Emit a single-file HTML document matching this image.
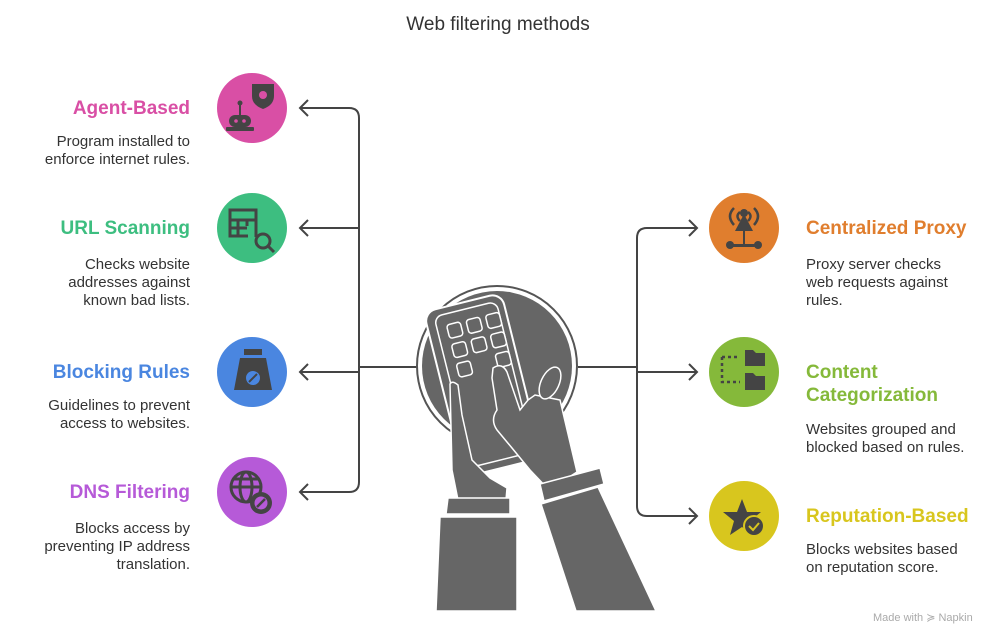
<!DOCTYPE html>
<html><head><meta charset="utf-8"><style>
html,body{margin:0;padding:0;background:#fff}
svg{display:block}
text{font-family:"Liberation Sans",sans-serif}
.t{font-size:19px;font-weight:bold}
.d{font-size:15px;fill:#333}
</style></head><body>
<svg width="996" height="634" viewBox="0 0 996 634" xmlns="http://www.w3.org/2000/svg">
<text x="498" y="30" text-anchor="middle" font-size="19" fill="#333">Web filtering methods</text>

<!-- connectors -->
<g fill="none" stroke="#444" stroke-width="2">
<path d="M359 367 H418"/>
<path d="M300 108 H349 Q359 108 359 118 V482 Q359 492 349 492 H300"/>
<path d="M300 228 H359 M300 372 H359"/>
<path d="M308 100 L300 108 L308 116 M308 220 L300 228 L308 236 M308 364 L300 372 L308 380 M308 484 L300 492 L308 500"/>
<path d="M578 367 H637"/>
<path d="M697 228 H647 Q637 228 637 238 V506 Q637 516 647 516 H697"/>
<path d="M637 372 H697"/>
<path d="M689 220 L697 228 L689 236 M689 364 L697 372 L689 380 M689 508 L697 516 L689 524"/>
</g>

<!-- center illustration -->
<circle cx="497" cy="366" r="80" fill="#fff" stroke="#555" stroke-width="2"/>
<circle cx="497" cy="366" r="75" fill="#666"/>
<g fill="#666" stroke="#fff" stroke-width="2">
<rect x="443" y="300" width="80" height="170" rx="12" transform="rotate(-14 483 385)"/>
</g>
<rect x="452" y="307" width="64" height="155" rx="8" transform="rotate(-14 483 385)" fill="none" stroke="#fff" stroke-width="1.5"/>
<g fill="#666" stroke="#fff" stroke-width="1.5" transform="rotate(-14 483 385)">
<rect x="462" y="318" width="14" height="14" rx="3"/><rect x="482" y="318" width="14" height="14" rx="3"/><rect x="502" y="318" width="14" height="14" rx="3"/>
<rect x="462" y="338" width="14" height="14" rx="3"/><rect x="482" y="338" width="14" height="14" rx="3"/><rect x="502" y="338" width="14" height="14" rx="3"/>
<rect x="462" y="358" width="14" height="14" rx="3"/><rect x="502" y="358" width="14" height="14" rx="3"/>
</g>
<g fill="#666" stroke="#fff" stroke-width="1.5">
<path d="M450 384 Q452 380 458 385 L462 415 L472 460 L490 478 L507 488 L506 500 L458 500 L452 470 Z"/>
<path d="M493 368 Q502 362 507 372 L520 410 L528 400 L535 395 L545 397 L560 400 L577 472 L549 490 L530 470 L512 448 L497 430 Q490 420 497 410 L492 378 Z"/>
<ellipse cx="550" cy="383" rx="9" ry="17" transform="rotate(25 550 383)"/>
<path d="M440 517 H517 V611 H436 Z"/>
<path d="M448 498 H510 V514 H446 Z"/>
<path d="M541 504 L598 487 L656 611 H576 Z"/>
<path d="M540 484 L600 468 L604 484 L544 501 Z"/>
</g>

<!-- left circles -->
<circle cx="252" cy="108" r="35" fill="#D94FA5"/>
<circle cx="252" cy="228" r="35" fill="#3DBE80"/>
<circle cx="252" cy="372" r="35" fill="#4A86E0"/>
<circle cx="252" cy="492" r="35" fill="#B65AD8"/>
<!-- icons left -->
<g fill="#444">
<path d="M252 84 h22 v12 q0 9 -11 13 q-11 -4 -11 -13z"/>
<circle cx="263" cy="95" r="4" fill="#D94FA5"/>
<rect x="229" y="115" width="22" height="12" rx="6"/><rect x="226" y="127" width="28" height="4" rx="1"/>
<circle cx="236" cy="121" r="1.8" fill="#D94FA5"/><circle cx="244" cy="121" r="1.8" fill="#D94FA5"/>
<circle cx="240" cy="103" r="2.5"/><rect x="239" y="104" width="2" height="11"/>
</g>
<g fill="none" stroke="#444" stroke-width="3">
<path d="M256 237 V210 H230 V236 H248 M230 220 H256 M230 228 H247 M238 220 V236 M247 220 V226"/>
<circle cx="263" cy="241" r="7"/><path d="M268 246 l6 6"/>
</g>
<g fill="#444">
<path d="M244 349 h18 v6 h-18z M240 358 h26 l6 32 h-38z"/>
<circle cx="253" cy="378" r="7" fill="#4A86E0"/><path d="M249 382 l8 -8" stroke="#444" stroke-width="2"/>
</g>
<g fill="none" stroke="#444" stroke-width="3">
<circle cx="246" cy="487" r="15"/>
<ellipse cx="246" cy="487" rx="6" ry="15"/>
<path d="M231 487 H261 M233 479 H259"/>
</g>
<circle cx="261" cy="503" r="11" fill="#444"/><circle cx="261" cy="503" r="6.5" fill="#B65AD8"/><path d="M257 507 l8 -8" stroke="#444" stroke-width="2.5"/>
<!-- right circles -->
<circle cx="744" cy="228" r="35" fill="#E07E2E"/>
<circle cx="744" cy="372" r="35" fill="#85B93A"/>
<circle cx="744" cy="516" r="35" fill="#D8C61E"/>
<g fill="#444">
<path d="M744 214 l-9 17 h18z"/><circle cx="744" cy="213" r="4"/>
<rect x="730" y="244" width="28" height="3"/><circle cx="730" cy="245" r="4"/><circle cx="758" cy="245" r="4"/><rect x="743" y="229" width="2" height="16"/>
<path d="M744 210 q-5 4 0 9 M738 206 q-8 8 0 17 M752 210 q5 4 0 9 M758 206 q8 8 0 17" fill="none" stroke="#444" stroke-width="2.5" transform="translate(-4 2)"/>
<path d="M745 350 h8 l3 3 h9 v13 h-20z M745 373 h8 l3 3 h9 v14 h-20z"/>
<path d="M722 357 h18 M722 357 v25 h18" fill="none" stroke="#444" stroke-width="2.5" stroke-dasharray="3 3"/>
<path d="M742 499 l5 13 h14 l-11 9 l4 14 l-12 -8 l-12 8 l4 -14 l-11 -9 h14z"/>
<circle cx="754" cy="526" r="10" fill="#444" stroke="#D8C61E" stroke-width="2"/>
<path d="M749 526 l4 4 l6 -7" fill="none" stroke="#D8C61E" stroke-width="2"/>
</g>

<!-- left text -->
<g text-anchor="end">
<text class="t" x="190" y="114" fill="#D94FA5">Agent-Based</text>
<text class="d" x="190" y="146">Program installed to</text>
<text class="d" x="190" y="164">enforce internet rules.</text>
<text class="t" x="190" y="234" fill="#3DBE80">URL Scanning</text>
<text class="d" x="190" y="269">Checks website</text>
<text class="d" x="190" y="287">addresses against</text>
<text class="d" x="190" y="305">known bad lists.</text>
<text class="t" x="190" y="378" fill="#4A86E0">Blocking Rules</text>
<text class="d" x="190" y="410">Guidelines to prevent</text>
<text class="d" x="190" y="428">access to websites.</text>
<text class="t" x="190" y="498" fill="#B65AD8">DNS Filtering</text>
<text class="d" x="190" y="533">Blocks access by</text>
<text class="d" x="190" y="551">preventing IP address</text>
<text class="d" x="190" y="569">translation.</text>
</g>
<!-- right text -->
<text class="t" x="806" y="234" fill="#E07E2E">Centralized Proxy</text>
<text class="d" x="806" y="269">Proxy server checks</text>
<text class="d" x="806" y="287">web requests against</text>
<text class="d" x="806" y="305">rules.</text>
<text class="t" x="806" y="378" fill="#85B93A">Content</text>
<text class="t" x="806" y="401" fill="#85B93A">Categorization</text>
<text class="d" x="806" y="434">Websites grouped and</text>
<text class="d" x="806" y="452">blocked based on rules.</text>
<text class="t" x="806" y="522" fill="#D8C61E">Reputation-Based</text>
<text class="d" x="806" y="554">Blocks websites based</text>
<text class="d" x="806" y="572">on reputation score.</text>

<text x="873" y="621" font-size="11" fill="#aaa">Made with ≽ Napkin</text>
</svg>
</body></html>
